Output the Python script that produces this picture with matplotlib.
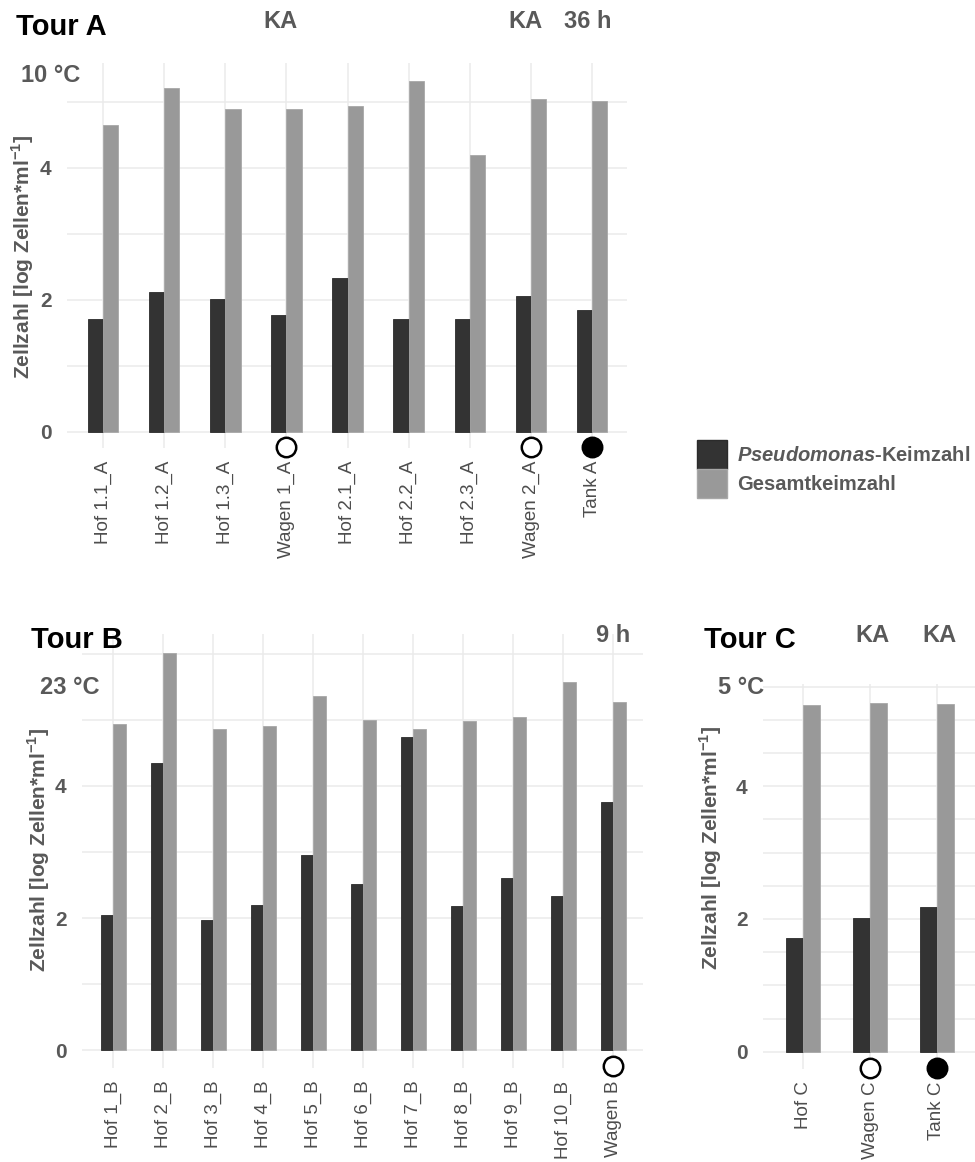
import matplotlib
matplotlib.use('Agg')
import matplotlib.pyplot as plt
from matplotlib.patches import Patch
from matplotlib.ticker import MultipleLocator
import numpy as np

plt.rcParams['font.family'] = ['Liberation Sans', 'DejaVu Sans']
plt.rcParams['mathtext.fontset'] = 'custom'
plt.rcParams['mathtext.rm'] = 'Liberation Sans:bold'
plt.rcParams['mathtext.bf'] = 'Liberation Sans:bold'
plt.rcParams['mathtext.bfit'] = 'Liberation Sans:italic:bold'

# Tour A
labels_a = ['Hof 1.1_A', 'Hof 1.2_A', 'Hof 1.3_A', 'Wagen 1_A', 'Hof 2.1_A',
            'Hof 2.2_A', 'Hof 2.3_A', 'Wagen 2_A', 'Tank A']
pseudo_a = [1.71, 2.11, 2.01, 1.77, 2.33, 1.71, 1.71, 2.06, 1.85]
gesamt_a = [4.65, 5.21, 4.89, 4.89, 4.94, 5.31, 4.20, 5.05, 5.01]
open_a = ['Wagen 1_A', 'Wagen 2_A']
filled_a = ['Tank A']

# Tour B
labels_b = ['Hof 1_B', 'Hof 2_B', 'Hof 3_B', 'Hof 4_B', 'Hof 5_B', 'Hof 6_B',
            'Hof 7_B', 'Hof 8_B', 'Hof 9_B', 'Hof 10_B', 'Wagen B']
pseudo_b = [2.04, 4.34, 1.97, 2.20, 2.95, 2.51, 4.74, 2.18, 2.61, 2.34, 3.75]
gesamt_b = [4.94, 6.01, 4.86, 4.90, 5.36, 5.00, 4.86, 4.99, 5.04, 5.57, 5.27]
open_b = ['Wagen B']
filled_b = []

# Tour C
labels_c = ['Hof C', 'Wagen C', 'Tank C']
pseudo_c = [1.71, 2.01, 2.18]
gesamt_c = [5.22, 5.25, 5.24]
open_c = ['Wagen C']
filled_c = ['Tank C']

DARK = '#333333'
LIGHT = '#999999'
GREY_TXT = '#595959'
GRID = '#ebebeb'
W, H = 975, 1162

fig = plt.figure(figsize=(W / 100, H / 100), dpi=100)


def add_axes_px(left, top, right, bottom):
    return fig.add_axes([left / W, 1 - bottom / H, (right - left) / W, (bottom - top) / H])


def fig_text(x, y, s, **kw):
    fig.text(x / W, 1 - y / H, s, ha='center', va='center', **kw)


def draw_panel(ax, labels, pseudo, gesamt, open_marks, filled_marks,
               xlim, ylim, grid_step, ylab_xy):
    x = np.arange(len(labels))
    bw = 0.25
    ax.bar(x - bw / 2, pseudo, bw, color=DARK, edgecolor='#2b2b2b', linewidth=0.6, zorder=2)
    ax.bar(x + bw / 2, gesamt, bw, color=LIGHT, edgecolor='#a8a8a8', linewidth=0.6, zorder=2)

    # sample markers: open circle = Wagen, filled circle = Tank
    for name in open_marks:
        i = labels.index(name)
        ax.plot(i, -0.24, 'o', ms=14, mfc='white', mec='black', mew=1.8, clip_on=False, zorder=3)
    for name in filled_marks:
        i = labels.index(name)
        ax.plot(i, -0.24, 'o', ms=14, mfc='black', mec='black', mew=1.8, clip_on=False, zorder=3)

    ax.set_xlim(*xlim)
    ax.set_ylim(*ylim)
    ax.set_xticks(x)
    ax.set_xticklabels(labels, rotation=90, fontsize=13.5, color='#4d4d4d', va='top')
    ax.set_yticks([0, 2, 4])
    ax.set_yticklabels(['0', '2', '4'], fontsize=15, fontweight='bold', color=GREY_TXT)
    ax.yaxis.set_minor_locator(MultipleLocator(grid_step))
    ax.tick_params(axis='both', which='both', length=0)
    ax.tick_params(axis='x', pad=9)
    ax.tick_params(axis='y', pad=11)
    ax.grid(True, axis='x', color=GRID, linewidth=1.1)
    ax.grid(True, axis='y', which='both', color=GRID, linewidth=1.1)
    ax.set_axisbelow(True)
    for s in ax.spines.values():
        s.set_visible(False)
    ax.set_ylabel(r'Zellzahl [log Zellen*ml$^{\mathbf{-1}}$]', fontsize=15,
                  fontweight='bold', color=GREY_TXT, va='center')
    ax.yaxis.set_label_coords(*ylab_xy)


ax_a = add_axes_px(67, 63, 627, 448)
draw_panel(ax_a, labels_a, pseudo_a, gesamt_a, open_a, filled_a,
           (-0.59, 8.57), (-0.25, 5.59), 1, (-0.080, 0.496))

ax_b = add_axes_px(82, 634, 643, 1068)
draw_panel(ax_b, labels_b, pseudo_b, gesamt_b, open_b, filled_b,
           (-0.63, 10.6), (-0.27, 6.3), 1, (-0.078, 0.502))

ax_c = add_axes_px(763, 684, 975, 1069)
draw_panel(ax_c, labels_c, pseudo_c, gesamt_c, open_c, filled_c,
           (-0.6, 2.57), (-0.26, 5.54), 0.5, (-0.245, 0.574))

# panel headers
fig_text(61, 27, 'Tour A', fontsize=21, fontweight='bold', color='black')
fig_text(280, 21, 'KA', fontsize=17, fontweight='bold', color=GREY_TXT)
fig_text(525, 21, 'KA', fontsize=17, fontweight='bold', color=GREY_TXT)
fig_text(588, 21, '36 h', fontsize=17, fontweight='bold', color=GREY_TXT)
fig_text(51, 75, '10 °C', fontsize=17, fontweight='bold', color=GREY_TXT)

fig_text(77, 640, 'Tour B', fontsize=21, fontweight='bold', color='black')
fig_text(613, 635, '9 h', fontsize=17, fontweight='bold', color=GREY_TXT)
fig_text(70, 687, '23 °C', fontsize=17, fontweight='bold', color=GREY_TXT)

fig_text(750, 640, 'Tour C', fontsize=21, fontweight='bold', color='black')
fig_text(872, 635, 'KA', fontsize=17, fontweight='bold', color=GREY_TXT)
fig_text(939, 635, 'KA', fontsize=17, fontweight='bold', color=GREY_TXT)
fig_text(741, 687, '5 °C', fontsize=17, fontweight='bold', color=GREY_TXT)

handles = [Patch(facecolor=DARK, edgecolor='#2b2b2b'),
           Patch(facecolor=LIGHT, edgecolor='#a8a8a8')]
fig.legend(handles, [r'$\mathbfit{Pseudomonas}$-Keimzahl', 'Gesamtkeimzahl'],
           loc='upper left', bbox_to_anchor=(697 / W, 1 - 440 / H),
           frameon=False, handlelength=1.5, handleheight=1.85, labelspacing=0,
           handletextpad=0.5, borderpad=0, borderaxespad=0,
           prop=dict(weight='bold', size=14.5), labelcolor=GREY_TXT)

fig.savefig('out.png', dpi=100)
